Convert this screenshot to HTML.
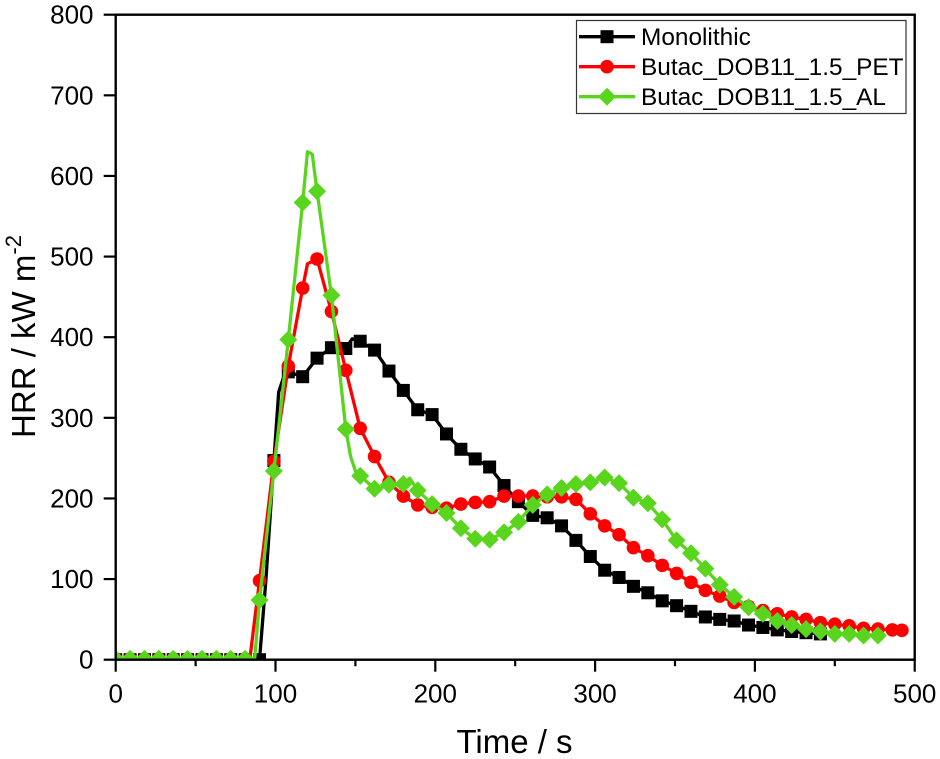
<!DOCTYPE html>
<html lang="en">
<head>
<meta charset="utf-8">
<title>HRR vs Time</title>
<style>
html,body{margin:0;padding:0;background:#fff;width:940px;height:759px;overflow:hidden}
svg{display:block;font-family:"Liberation Sans",Arial,sans-serif}
</style>
</head>
<body>
<svg id="chart" xmlns="http://www.w3.org/2000/svg" width="940" height="759" viewBox="0 0 940 759">
  <rect x="0" y="0" width="940" height="759" fill="#fff"/>
  <defs>
    <clipPath id="plot-clip"><rect x="115.7" y="14.7" width="799" height="645"/></clipPath>
  </defs>
  <g id="series-layer" clip-path="url(#plot-clip)"></g>
  <g id="axis-layer"></g>
  <text x="514.5" y="753" font-size="33" text-anchor="middle" fill="#000">Time / s</text>
  <text transform="translate(35,336.5) rotate(-90)" font-size="33" text-anchor="middle" fill="#000">HRR / kW m<tspan font-size="22" dy="-14">-2</tspan></text>
  <g>
    <rect x="576.5" y="20.5" width="329.5" height="93" fill="#fff" stroke="#333" stroke-width="1.2"/>
    <g>
      <line x1="579" x2="635" y1="36.7" y2="36.7" stroke="#000" stroke-width="3.3"/>
      <rect x="600.5" y="30.2" width="13" height="13" fill="#000"/>
      <text x="641" y="45" font-size="24.4" fill="#000">Monolithic</text>
    </g>
    <g>
      <line x1="579" x2="635" y1="66.7" y2="66.7" stroke="#ff0000" stroke-width="3.3"/>
      <circle cx="607" cy="66.7" r="6.8" fill="#ff0000"/>
      <text x="641" y="75" font-size="24.4" fill="#000">Butac_DOB11_1.5_PET</text>
    </g>
    <g>
      <line x1="579" x2="635" y1="96.7" y2="96.7" stroke="#5ad51e" stroke-width="3.3"/>
      <polygon points="607,87.7 616,96.7 607,105.7 598,96.7" fill="#5ad51e"/>
      <text x="641" y="105" font-size="24.4" fill="#000">Butac_DOB11_1.5_AL</text>
    </g>
  </g>
</svg>
<script>
const xTicks = [0, 100, 200, 300, 400, 500];
const xMinorTicks = [50, 150, 250, 350, 450];
const yTicks = [0, 100, 200, 300, 400, 500, 600, 700, 800];

const monoTimes = [0,9,18,27,36,45,54,63,72,81,90,94,99,102,105,108,117,126,135,144,148,153,162,171,180,189,198,207,216,225,234,243,252,261,270,279,288,297,306,315,324,333,342,351,360,369,378,387,396,405,414,423,432,441];
const monoValues = [0,0,0,0,0,0,0,0,0,0,0,99,247,332,350,357,351,374,387,386,398,395,384,358,334,310,304,280,261,249,239,216,196,179,176,166,148,128,111,102,91,83,73,67,60,53,50,48,43,40,37,35,33.5,32];

const petTimes = [0,9,18,27,36,45,54,63,72,81,84,90,99,108,117,120,126,135,144,153,162,171,180,189,198,207,216,225,234,243,252,261,270,279,288,297,306,315,324,333,342,351,360,369,378,387,396,405,414,423,432,441,450,459,468,477,486,492];
const petValues = [1,1,1,1,1,1,1,1,1,1,2,98,246,364,461,491,497,432,359,287,252,220,203,192,189,188,193,195,196,203,203,203,202,202,199,181,166,155,139,129,117,107,96,86,79,71,66,61,57,53,50,46,44,42,39,38,37,36.5];

const alTimes = [0,9,18,27,36,45,54,63,72,81,87,90,99,108,117,120,123,126,135,144,147,150,153,162,171,180,184,189,198,207,216,225,234,243,252,261,270,279,288,297,306,315,324,333,342,351,360,369,378,387,396,405,414,423,432,441,450,459,468,477];
const alValues = [1,1,1,1,1,1,1,1,1,1,2,74,234,397,567,630,627,581,452,286,252,234,228,212,217,218,225,210,193,182,163,150,149,158,171,192,205,213,218,220,226,219,201,194,174,148,132,113,93,78,65,57,48,43,38,35,32,32,30,30];

const svgNS = 'http://www.w3.org/2000/svg';
const plotLeft = 115.7, plotRight = 914.7, plotTop = 14.7, plotBottom = 659.7;
const xMax = 500, yMax = 800;
function xScale(t) { return plotLeft + (plotRight - plotLeft) * t / xMax; }
function yScale(v) { return plotBottom - (plotBottom - plotTop) * v / yMax; }
function make(tag, attrs) {
  const el = document.createElementNS(svgNS, tag);
  for (const k in attrs) el.setAttribute(k, attrs[k]);
  return el;
}

const seriesLayer = document.getElementById('series-layer');
function drawSeries(key, times, values, color, shape) {
  const group = make('g', {});
  
  
  const pts = times.map((t, i) => xScale(t).toFixed(2) + ',' + yScale(values[i]).toFixed(2)).join(' ');
  const line = make('polyline', {points: pts, fill: 'none', stroke: color, 'stroke-width': 3.3, 'stroke-linejoin': 'round'});
  
  
  group.appendChild(line);
  times.forEach((t, i) => {
    if (t % 9 !== 0 && i !== times.length - 1) return;
    const cx = xScale(t), cy = yScale(values[i]);
    let m;
    if (shape === 'square') {
      m = make('rect', {x: cx - 6.5, y: cy - 6.5, width: 13, height: 13, fill: color});
    } else if (shape === 'circle') {
      m = make('circle', {cx: cx, cy: cy, r: 6.8, fill: color});
    } else {
      const s = 9;
      m = make('polygon', {points: [cx, cy - s, cx + s, cy, cx, cy + s, cx - s, cy].join(' '), fill: color});
    }
    
    
    group.appendChild(m);
  });
  seriesLayer.appendChild(group);
}
drawSeries('monolithic', monoTimes, monoValues, '#000000', 'square');
drawSeries('pet', petTimes, petValues, '#ff0000', 'circle');
drawSeries('al', alTimes, alValues, '#5ad51e', 'diamond');

const axisLayer = document.getElementById('axis-layer');
const frame = make('rect', {x: plotLeft, y: plotTop, width: plotRight - plotLeft, height: plotBottom - plotTop, fill: 'none', stroke: '#000', 'stroke-width': 2.4});


axisLayer.appendChild(frame);

xTicks.forEach(t => {
  const tick = make('line', {x1: xScale(t), x2: xScale(t), y1: plotBottom, y2: plotBottom + 12, stroke: '#000', 'stroke-width': 2.2});
  
  
  axisLayer.appendChild(tick);
  const label = make('text', {x: xScale(t), y: 702.5, 'font-size': 26, 'text-anchor': 'middle', fill: '#000'});
  
  
  label.textContent = t;
  axisLayer.appendChild(label);
});
xMinorTicks.forEach(t => {
  const tick = make('line', {x1: xScale(t), x2: xScale(t), y1: plotBottom, y2: plotBottom + 6.5, stroke: '#000', 'stroke-width': 2.2});
  
  
  axisLayer.appendChild(tick);
});
yTicks.forEach(v => {
  const tick = make('line', {x1: plotLeft - 12, x2: plotLeft, y1: yScale(v), y2: yScale(v), stroke: '#000', 'stroke-width': 2.2});
  
  
  axisLayer.appendChild(tick);
  const label = make('text', {x: 93.5, y: yScale(v) + 9, 'font-size': 26, 'text-anchor': 'end', fill: '#000'});
  
  
  label.textContent = v;
  axisLayer.appendChild(label);
});
</script>
</body>
</html>
